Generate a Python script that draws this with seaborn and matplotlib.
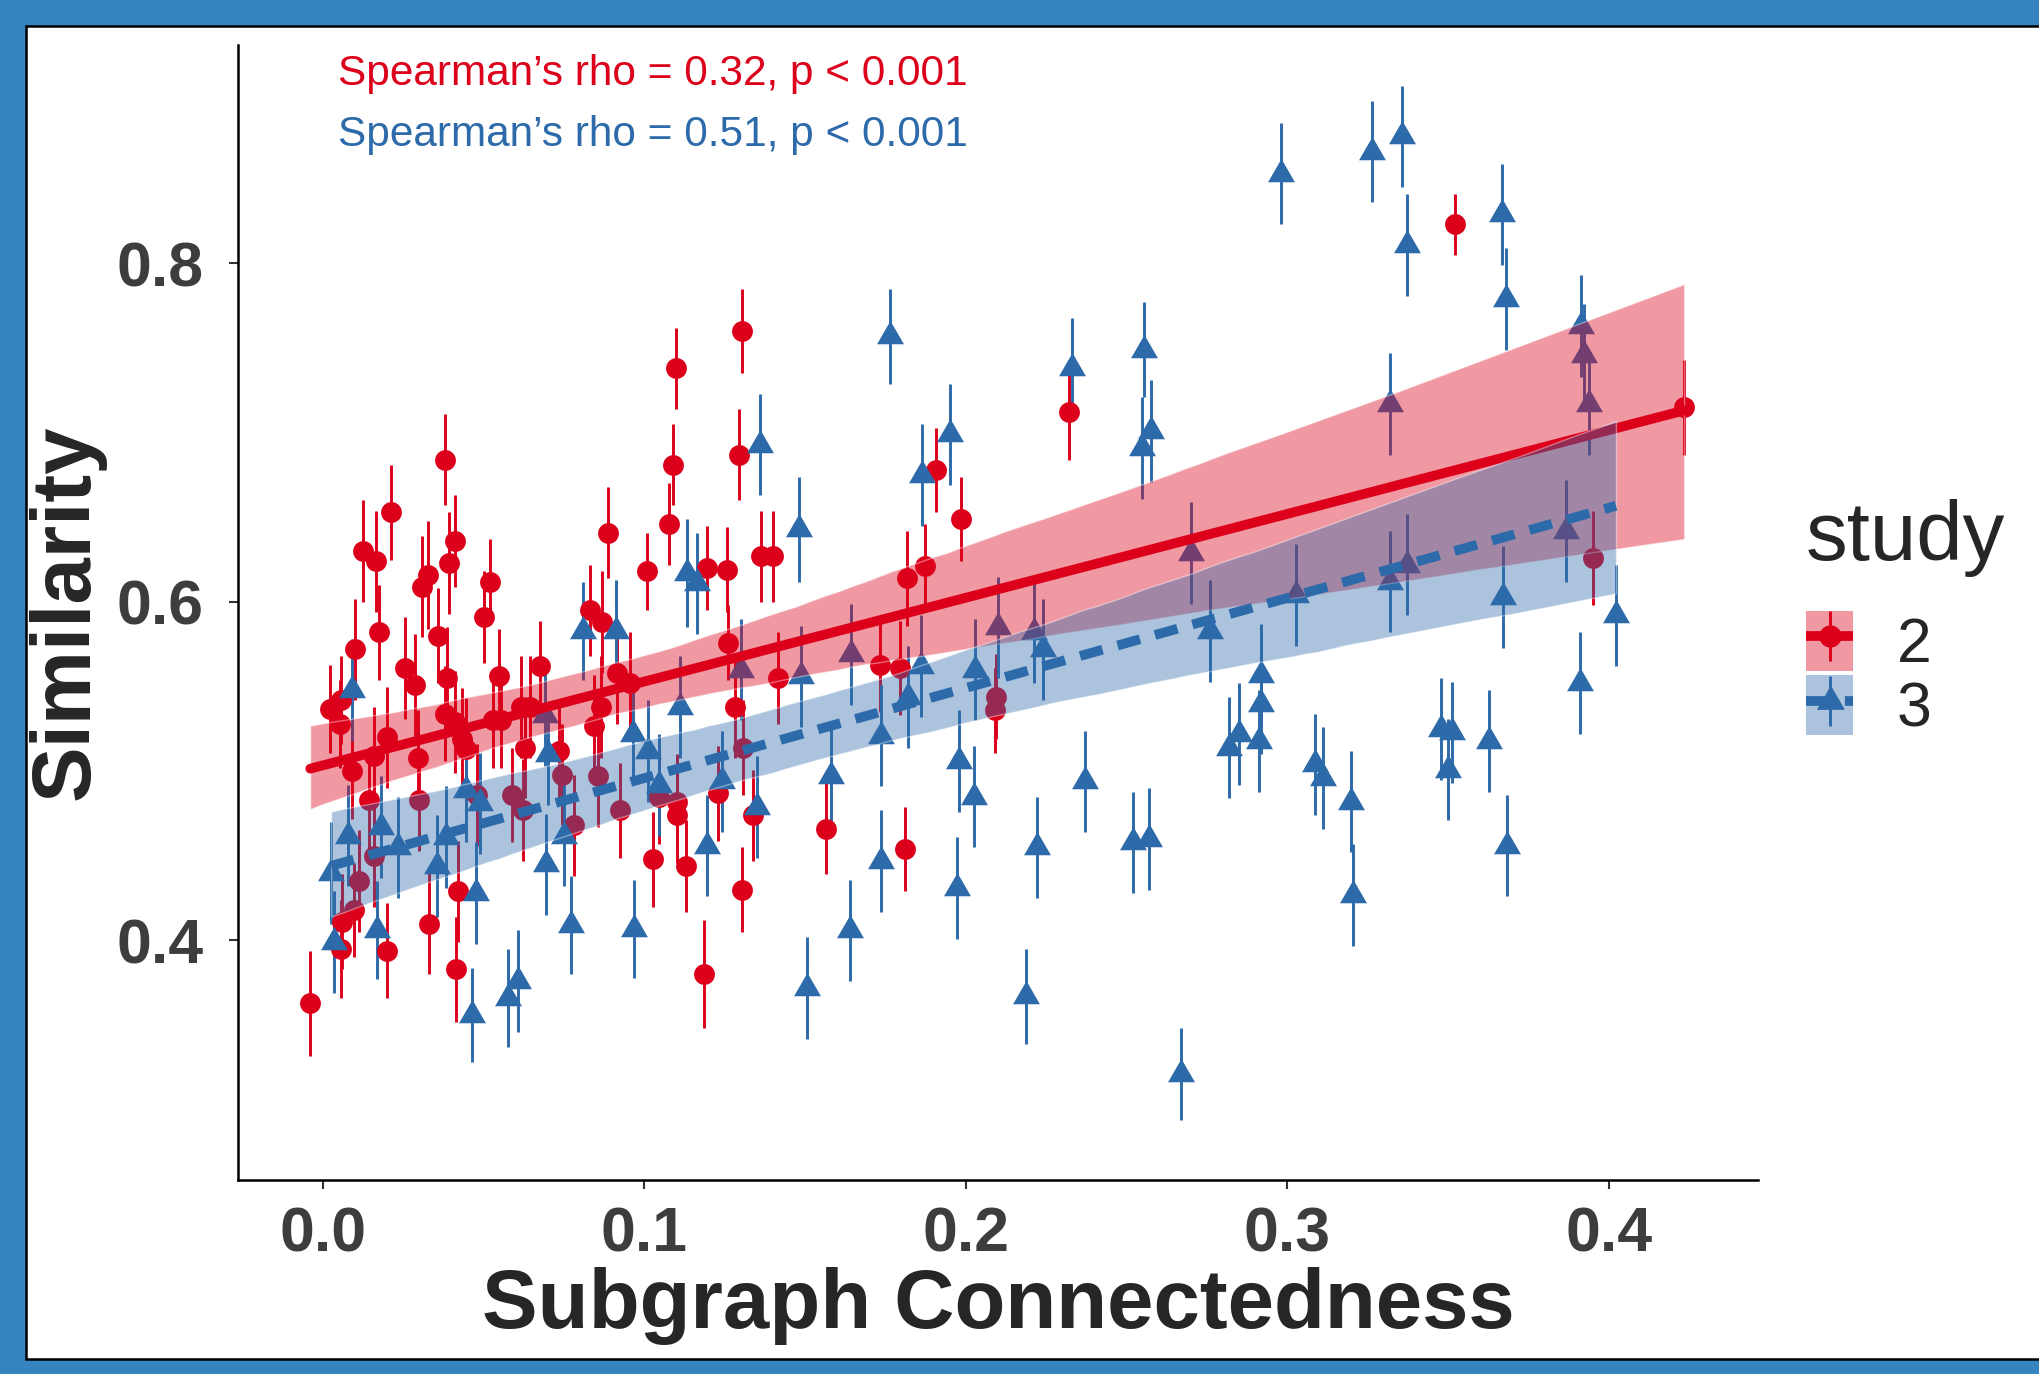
import matplotlib
matplotlib.use('Agg')
import matplotlib.pyplot as plt
from matplotlib import font_manager
from matplotlib.patches import Rectangle, Patch
from matplotlib.lines import Line2D
import numpy as np
import pandas as pd
import seaborn as sns

sns.set_style('white')
plt.rcParams['font.family'] = ['Liberation Sans', 'DejaVu Sans']

ROJO = '#DC001A'
AZUL = '#2D6AAA'
MARCO = '#3584C0'

# study 2 (circulos rojos)
red_x = [-0.004, 0.002, 0.0056, 0.0051, 0.0058, 0.0056, 0.0095, 0.0089, 0.010, 0.0112,
         0.0123, 0.0143, 0.0157, 0.0159, 0.0166, 0.0174, 0.0198, 0.020, 0.0212, 0.0254,
         0.0286, 0.0295, 0.0298, 0.0309, 0.0325, 0.0331, 0.0356, 0.0378, 0.0378, 0.0386,
         0.0391, 0.0411, 0.0411, 0.0413, 0.0421, 0.0431, 0.0444, 0.0478, 0.0501, 0.0519,
         0.053, 0.0547, 0.0555, 0.0589, 0.0615, 0.0622, 0.0627, 0.0643, 0.0676, 0.0735,
         0.0743, 0.0782, 0.0829, 0.0844, 0.0854, 0.0864, 0.0869, 0.0887, 0.0913, 0.0923,
         0.0956, 0.1008, 0.1026, 0.1044, 0.1076, 0.109, 0.1099, 0.1101, 0.1101, 0.1129,
         0.1185, 0.1193, 0.1229, 0.1257, 0.1261, 0.1282, 0.1293, 0.1302, 0.1304, 0.1307,
         0.1338, 0.1362, 0.140, 0.1415, 0.1564, 0.1732, 0.1794, 0.1818, 0.1811, 0.1874,
         0.1908, 0.1985, 0.2095, 0.209, 0.232, 0.3522, 0.395, 0.4235]
red_y = [0.363, 0.537, 0.542, 0.528, 0.411, 0.395, 0.418, 0.500, 0.572, 0.435,
         0.630, 0.483, 0.450, 0.509, 0.624, 0.582, 0.394, 0.520, 0.653, 0.561,
         0.551, 0.508, 0.483, 0.609, 0.616, 0.410, 0.580, 0.684, 0.534, 0.555,
         0.623, 0.636, 0.529, 0.383, 0.429, 0.519, 0.513, 0.486, 0.591, 0.612,
         0.530, 0.556, 0.530, 0.486, 0.538, 0.477, 0.514, 0.538, 0.562, 0.512,
         0.498, 0.468, 0.595, 0.527, 0.497, 0.538, 0.588, 0.641, 0.558, 0.477,
         0.552, 0.618, 0.448, 0.485, 0.646, 0.681, 0.738, 0.482, 0.474, 0.444,
         0.380, 0.620, 0.487, 0.619, 0.576, 0.538, 0.687, 0.760, 0.430, 0.514,
         0.474, 0.627, 0.627, 0.555, 0.466, 0.563, 0.561, 0.614, 0.454, 0.621,
         0.678, 0.649, 0.544, 0.536, 0.712, 0.823, 0.626, 0.715]
red_e = [0.031, 0.026, 0.026, 0.026, 0.028, 0.029, 0.028, 0.028, 0.030, 0.030,
         0.030, 0.030, 0.030, 0.029, 0.030, 0.028, 0.028, 0.030, 0.028, 0.030,
         0.030, 0.028, 0.030, 0.030, 0.032, 0.030, 0.028, 0.027, 0.028, 0.030,
         0.030, 0.027, 0.030, 0.031, 0.030, 0.030, 0.030, 0.030, 0.027, 0.025,
         0.028, 0.028, 0.028, 0.028, 0.030, 0.030, 0.030, 0.030, 0.027, 0.030,
         0.030, 0.030, 0.027, 0.030, 0.030, 0.030, 0.030, 0.027, 0.030, 0.028,
         0.030, 0.023, 0.028, 0.028, 0.024, 0.024, 0.024, 0.028, 0.028, 0.027,
         0.032, 0.025, 0.028, 0.025, 0.022, 0.030, 0.027, 0.025, 0.025, 0.028,
         0.027, 0.027, 0.027, 0.027, 0.027, 0.028, 0.028, 0.028, 0.025, 0.025,
         0.025, 0.025, 0.025, 0.025, 0.028, 0.018, 0.028, 0.028]

# study 3 (triangulos azules)
blue_x = [0.0025, 0.0035, 0.0078, 0.0089, 0.0169, 0.0179, 0.0233, 0.0354, 0.0383, 0.0445,
          0.0462, 0.0476, 0.0488, 0.0574, 0.0607, 0.0689, 0.0692, 0.070, 0.0751, 0.0772,
          0.081, 0.091, 0.0964, 0.0968, 0.101, 0.1044, 0.111, 0.1132, 0.1162, 0.1193,
          0.124, 0.130, 0.135, 0.136, 0.148, 0.1487, 0.1505, 0.158, 0.1643, 0.164,
          0.1735, 0.1737, 0.1765, 0.182, 0.1859, 0.1864, 0.1952, 0.1974, 0.198, 0.2025,
          0.2027, 0.2101, 0.2186, 0.2221, 0.2211, 0.2239, 0.233, 0.2371, 0.2521, 0.257,
          0.2553, 0.2548, 0.2577, 0.267, 0.270, 0.276, 0.2818, 0.285, 0.2913, 0.2917,
          0.2917, 0.2982, 0.3026, 0.3086, 0.3112, 0.320, 0.3206, 0.3265, 0.332, 0.332,
          0.3357, 0.3373, 0.3374, 0.348, 0.3512, 0.350, 0.3628, 0.3667, 0.368, 0.367,
          0.3685, 0.3867, 0.3914, 0.3922, 0.394, 0.391, 0.4023]
blue_y = [0.440, 0.399, 0.462, 0.548, 0.406, 0.467, 0.455, 0.444, 0.461, 0.489,
          0.356, 0.428, 0.481, 0.366, 0.376, 0.533, 0.445, 0.510, 0.462, 0.409,
          0.583, 0.583, 0.522, 0.407, 0.512, 0.492, 0.538, 0.617, 0.611, 0.456,
          0.494, 0.560, 0.479, 0.693, 0.643, 0.556, 0.372, 0.497, 0.569, 0.406,
          0.447, 0.521, 0.757, 0.544, 0.562, 0.675, 0.699, 0.431, 0.506, 0.485,
          0.560, 0.585, 0.367, 0.455, 0.582, 0.572, 0.738, 0.494, 0.458, 0.460,
          0.749, 0.691, 0.701, 0.321, 0.629, 0.583, 0.514, 0.522, 0.518, 0.557,
          0.540, 0.853, 0.604, 0.504, 0.496, 0.482, 0.427, 0.866, 0.717, 0.612,
          0.875, 0.811, 0.622, 0.525, 0.523, 0.501, 0.518, 0.829, 0.779, 0.603,
          0.456, 0.642, 0.763, 0.746, 0.717, 0.552, 0.592]
blue_e = [0.030, 0.030, 0.030, 0.030, 0.029, 0.030, 0.030, 0.030, 0.030, 0.031,
          0.028, 0.030, 0.030, 0.029, 0.030, 0.030, 0.030, 0.030, 0.030, 0.029,
          0.029, 0.030, 0.030, 0.029, 0.030, 0.030, 0.030, 0.032, 0.030, 0.030,
          0.030, 0.030, 0.030, 0.030, 0.031, 0.030, 0.030, 0.030, 0.030, 0.030,
          0.030, 0.030, 0.028, 0.030, 0.030, 0.030, 0.030, 0.030, 0.030, 0.030,
          0.030, 0.030, 0.028, 0.030, 0.030, 0.030, 0.030, 0.030, 0.030, 0.030,
          0.028, 0.030, 0.030, 0.027, 0.030, 0.030, 0.030, 0.030, 0.030, 0.030,
          0.030, 0.030, 0.030, 0.030, 0.030, 0.030, 0.030, 0.030, 0.030, 0.030,
          0.030, 0.030, 0.030, 0.030, 0.030, 0.030, 0.030, 0.030, 0.030, 0.030,
          0.030, 0.030, 0.030, 0.030, 0.030, 0.030, 0.030]

df2 = pd.DataFrame({'x': red_x, 'y': red_y, 'se': red_e})
df3 = pd.DataFrame({'x': blue_x, 'y': blue_y, 'se': blue_e})

# triangulo tipo pch 17 (centrado en el centroide)
triangulo = [(0, 1.555), (1.347, -0.778), (-1.347, -0.778)]

fig = plt.figure(figsize=(20.39, 13.74), dpi=100, facecolor=MARCO)
# panel blanco con borde negro sobre el fondo azul
fig.patches.append(Rectangle((0.0128, 0.011), 1.0, 0.9701, transform=fig.transFigure,
                             facecolor='white', edgecolor='black', lw=1.8, zorder=-5))

ax = fig.add_axes([0.1167, 0.1412, 0.7455, 0.826])
ax.set_facecolor('none')

# barras de error
ax.errorbar(df2['x'], df2['y'], yerr=df2['se'], fmt='none', ecolor=ROJO, elinewidth=2.1, capsize=0, zorder=2)
ax.errorbar(df3['x'], df3['y'], yerr=df3['se'], fmt='none', ecolor=AZUL, elinewidth=2.1, capsize=0, zorder=2)

# puntos
sns.scatterplot(data=df2, x='x', y='y', color=ROJO, marker='o', s=225, linewidth=0, ax=ax, zorder=3, legend=False)
sns.scatterplot(data=df3, x='x', y='y', color=AZUL, marker=triangulo, s=500, linewidth=0, ax=ax, zorder=3, legend=False)

# rectas de regresion con banda de confianza
sns.regplot(data=df2, x='x', y='y', scatter=False, ci=95, n_boot=1000, seed=3, color=ROJO,
            line_kws={'lw': 7, 'zorder': 6}, ax=ax)
ax.collections[-1].set_alpha(0.4)
ax.collections[-1].set_zorder(5)
sns.regplot(data=df3, x='x', y='y', scatter=False, ci=95, n_boot=1000, seed=3, color=AZUL,
            line_kws={'lw': 7, 'ls': '--', 'dashes': (2.4, 1.6), 'zorder': 8}, ax=ax)
ax.collections[-1].set_alpha(0.4)
ax.collections[-1].set_zorder(7)

ax.set_xlim(-0.0265, 0.4465)
ax.set_ylim(0.2585, 0.929)
ax.set_xticks([0.0, 0.1, 0.2, 0.3, 0.4])
ax.set_xticklabels(['0.0', '0.1', '0.2', '0.3', '0.4'])
ax.set_yticks([0.4, 0.6, 0.8])
ax.set_yticklabels(['0.4', '0.6', '0.8'])
for s in ['top', 'right']:
    ax.spines[s].set_visible(False)
for s in ['left', 'bottom']:
    ax.spines[s].set_color('black')
    ax.spines[s].set_linewidth(1.8)
ax.tick_params(axis='both', length=6.5, width=1.5, color='#333333', labelsize=45,
               labelcolor='#3d3d3d', left=True, bottom=True)
ax.tick_params(axis='x', pad=12)
ax.tick_params(axis='y', pad=18)
for lab in ax.get_xticklabels() + ax.get_yticklabels():
    lab.set_fontweight('bold')

ax.set_xlabel('Subgraph Connectedness', fontsize=60, fontweight='bold', labelpad=2)
ax.set_ylabel('Similarity', fontsize=60, fontweight='bold', labelpad=8)

# textos de Spearman
nombres = {f.name for f in font_manager.fontManager.ttflist}
if 'Liberation Sans Narrow' in nombres:
    fuente, tam = 'Liberation Sans Narrow', 35
else:
    fuente, tam = 'Liberation Sans', 30.5
ax.text(0.0658, 0.9744, 'Spearman\u2019s rho = 0.32, p < 0.001', transform=ax.transAxes,
        color=ROJO, fontsize=tam, family=fuente, va='center', ha='left')
ax.text(0.0658, 0.9207, 'Spearman\u2019s rho = 0.51, p < 0.001', transform=ax.transAxes,
        color=AZUL, fontsize=tam, family=fuente, va='center', ha='left')

# leyenda
h2 = (Patch(facecolor=ROJO, alpha=0.4, lw=0),
      Line2D([], [], color=ROJO, lw=7, solid_capstyle='butt'),
      Line2D([], [], color=ROJO, marker='|', markersize=36, mew=2.1, ls='none'),
      Line2D([], [], color=ROJO, marker='o', markersize=15, ls='none'))
h3 = (Patch(facecolor=AZUL, alpha=0.4, lw=0),
      Line2D([], [], color=AZUL, lw=7, ls='--', dashes=(2.4, 1.6), dash_capstyle='butt'),
      Line2D([], [], color=AZUL, marker='|', markersize=36, mew=2.1, ls='none'),
      Line2D([], [], color=AZUL, marker=triangulo, markersize=22, ls='none'))
leg = ax.legend([h2, h3], ['2', '3'], title='study', loc='upper left',
                bbox_to_anchor=(0.8857, 0.6365), bbox_transform=fig.transFigure,
                frameon=False, fontsize=45, title_fontsize=60, handlelength=0.76,
                handleheight=1.1, labelspacing=0, handletextpad=0.69, borderpad=0,
                borderaxespad=0, alignment='left')
leg._legend_box.sep = 24

fig.savefig('out.png', dpi=100, facecolor=MARCO)
